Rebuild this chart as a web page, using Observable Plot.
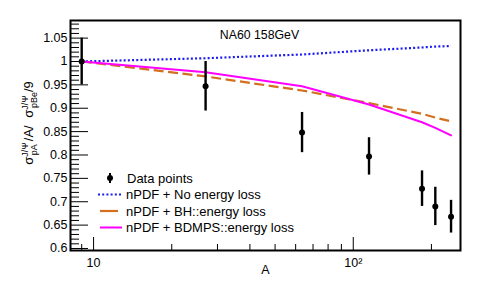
<!DOCTYPE html>
<html><head><meta charset="utf-8">
<script src="https://cdn.jsdelivr.net/npm/d3@7"></script>
<script src="https://cdn.jsdelivr.net/npm/@observablehq/plot@0.6"></script>
<style>body{margin:0;background:#fff} svg{font-family:"Liberation Sans",Arial,sans-serif}</style>
</head><body><div id="chart"></div>
<script>
// Data
const massA = [9, 27, 63.5, 115, 184, 207, 238];
const dataRatio = [1.0, 0.947, 0.848, 0.797, 0.728, 0.690, 0.668];
const dataErr = [0.05, 0.053, 0.043, 0.040, 0.038, 0.041, 0.035];
const noEloss = [1.0, 1.007, 1.015, 1.024, 1.030, 1.032, 1.033];
const bhEloss = [1.0, 0.968, 0.938, 0.911, 0.888, 0.880, 0.872];
const bdmpsEloss = [1.0, 0.977, 0.947, 0.908, 0.870, 0.858, 0.842];
const seriesNames = ["Data points", "nPDF + No energy loss", "nPDF + BH::energy loss", "nPDF + BDMPS::energy loss"];
const yMajor = [0.6, 0.65, 0.7, 0.75, 0.8, 0.85, 0.9, 0.95, 1.0, 1.05];
const yMinor = [0.61,0.62,0.63,0.64,0.66,0.67,0.68,0.69,0.71,0.72,0.73,0.74,0.76,0.77,0.78,0.79,0.81,0.82,0.83,0.84,0.86,0.87,0.88,0.89,0.91,0.92,0.93,0.94,0.96,0.97,0.98,0.99,1.01,1.02,1.03,1.04,1.06,1.07,1.08];
const xMajor = [10, 100];
const xMajorLabels = ["10", "10²"];
const xMinor = [9, 20, 30, 40, 50, 60, 70, 80, 90, 200];
const titleText = "NA60 158GeV";
const xTitle = "A";

const points = massA.map((a, i) => ({A: a, r: dataRatio[i], e: dataErr[i]}));
const mk = (arr) => massA.map((a, i) => ({A: a, v: arr[i]}));

const styles = {
  blue: {stroke: "#1c1cf0", strokeWidth: 2.2, strokeDasharray: "2,2.2", strokeLinecap: "butt"},
  orange: {stroke: "#d2701e", strokeWidth: 2.2, strokeDasharray: "10,4.5", strokeLinecap: "butt"},
  magenta: {stroke: "#ff00ff", strokeWidth: 2}
};

const chart = Plot.plot({
  width: 488, height: 287,
  marginLeft: 70, marginRight: 28, marginTop: 20, marginBottom: 37,
  x: {type: "log", domain: [8.15, 258.8]},
  y: {domain: [0.5957, 1.0877]},
  style: {fontFamily: "'Liberation Sans', Arial, sans-serif", fontSize: "12.5px", color: "black", background: "white"},
  marks: [
    Plot.axisY(yMinor, {tickSize: -9, tickFormat: () => "", strokeWidth: 1, label: null}),
    Plot.axisY(yMajor, {tickSize: -18, tickFormat: () => "", strokeWidth: 1, label: null}),
    Plot.axisY(yMajor, {tickSize: 0, tickPadding: 3, tickFormat: d => String(+d.toFixed(2)), fontSize: 12.5, label: null}),
    Plot.axisX(xMinor, {tickSize: -6, tickFormat: () => "", strokeWidth: 1, label: null}),
    Plot.axisX(xMajor, {tickSize: -13, tickFormat: () => "", strokeWidth: 1, label: null}),
    Plot.axisX(xMajor, {tickSize: 0, tickPadding: 8, tickFormat: d => xMajorLabels[xMajor.indexOf(d)], fontSize: 12.5, label: null}),
    Plot.line(mk(noEloss), {x: "A", y: "v", ...styles.blue}),
    Plot.line(mk(bhEloss), {x: "A", y: "v", ...styles.orange}),
    Plot.line(mk(bdmpsEloss), {x: "A", y: "v", ...styles.magenta}),
    Plot.ruleX(points, {x: "A", y1: d => d.r - d.e, y2: d => d.r + d.e, strokeWidth: 2.4, stroke: "black"}),
    Plot.dot(points, {x: "A", y: "r", r: 3, fill: "black", stroke: null}),
    Plot.text([titleText], {frameAnchor: "top", dy: 10, dx: -6, text: d => d, fontSize: 12.3}),
    Plot.text([xTitle], {frameAnchor: "bottom", dy: 23, text: d => d, fontSize: 12.5}),
    Plot.frame({stroke: "black", strokeWidth: 2})
  ]
});
document.getElementById("chart").append(chart);

const svg = d3.select(chart);
// Y axis title
const yt = svg.append("text")
  .attr("transform", "translate(33,123) rotate(-90)")
  .attr("text-anchor", "middle")
  .attr("font-size", 13)
  .attr("fill", "black");
yt.append("tspan").text("σ");
yt.append("tspan").attr("font-size", 9).attr("dy", -5).text("J/Ψ");
yt.append("tspan").attr("font-size", 9).attr("dx", -13).attr("dy", 9).text("pA");
yt.append("tspan").attr("dy", -4).attr("dx", 3).text("/A/ ");
yt.append("tspan").attr("dx", 4).text("σ");
yt.append("tspan").attr("font-size", 9).attr("dy", -5).text("J/Ψ");
yt.append("tspan").attr("font-size", 9).attr("dx", -13).attr("dy", 9).text("pBe");
yt.append("tspan").attr("dy", -4).text("/9");

// Legend
const lg = svg.append("g").attr("font-size", 13).attr("fill", "black").attr("text-anchor", "start");
const rows = [178, 194.5, 211, 227.5];
lg.append("line").attr("x1", 110).attr("x2", 110).attr("y1", rows[0] - 5).attr("y2", rows[0] + 5).attr("stroke", "black").attr("stroke-width", 2);
lg.append("circle").attr("cx", 110).attr("cy", rows[0]).attr("r", 3).attr("fill", "black");
const lineStyles = [styles.blue, styles.orange, styles.magenta];
lineStyles.forEach((s, i) => {
  const y = rows[i + 1];
  lg.append("line").attr("x1", i === 0 ? 98 : 100).attr("x2", i === 1 ? 118 : 122).attr("y1", y).attr("y2", y)
    .attr("stroke", s.stroke).attr("stroke-width", s.strokeWidth)
    .attr("stroke-dasharray", i === 0 ? s.strokeDasharray : null);
});
seriesNames.forEach((n, i) => {
  lg.append("text").attr("x", i === 0 ? 127 : 126).attr("y", rows[i]).attr("dy", "0.35em").attr("text-anchor", "start").text(n);
});
</script>
</body></html>
